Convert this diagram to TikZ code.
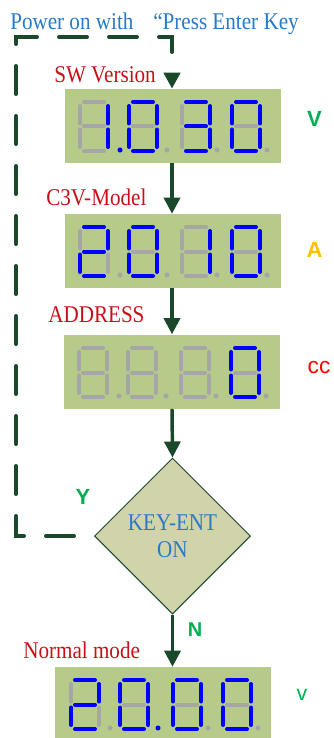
\documentclass[tikz,border=0pt]{standalone}
\usepackage{fontspec}
\setmainfont{Liberation Serif}
\newfontfamily\tfont[FakeStretch=0.88]{Liberation Serif}
\newfontfamily\lfont{Liberation Sans}
\usetikzlibrary{arrows.meta,shapes.geometric}
\definecolor{dkgreen}{RGB}{26,72,42}
\definecolor{dispbg}{RGB}{182,203,137}
\definecolor{segblue}{RGB}{0,0,255}
\definecolor{seggray}{RGB}{166,166,166}
\definecolor{diafill}{RGB}{209,211,171}
\definecolor{tblue}{RGB}{40,122,200}
\definecolor{tred}{RGB}{200,16,24}
\definecolor{lgreen}{RGB}{0,176,80}
\definecolor{lorange}{RGB}{255,192,0}
\definecolor{lred}{RGB}{255,0,0}
\tikzset{
  disp/.style={rectangle, fill=dispbg, draw=none, minimum width=162pt, minimum height=55.5pt, inner sep=0pt},
  sB/.style={draw=segblue},
  sG/.style={draw=seggray},
  seg/.style={line width=3pt, line cap=round},
  txt/.style={inner sep=0pt, anchor=base west, font=\tfont\fontsize{18}{20.25}\selectfont},
  lab/.style={inner sep=0pt, font=\lfont\bfseries\fontsize{16.5}{18}\selectfont, text=lgreen},
  arr/.style={draw=dkgreen, line width=2.6pt, -{Triangle[length=12pt,width=12pt]}},
  dashline/.style={draw=dkgreen, line width=3pt, line cap=round, dash pattern=on 21pt off 16.5pt, dash phase=22.5pt, -{Triangle[length=12pt,width=12pt]}},
}
\newcommand{\segdig}[9]{%
  \draw[seg,#3] (#1+4,#2) -- (#1+24,#2);
  \draw[seg,#4] (#1+28,#2+4) -- (#1+28,#2+21.5);
  \draw[seg,#5] (#1+28,#2+27.5) -- (#1+28,#2+45);
  \draw[seg,#6] (#1+4,#2+49) -- (#1+24,#2+49);
  \draw[seg,#7] (#1,#2+27.5) -- (#1,#2+45);
  \draw[seg,#8] (#1,#2+4) -- (#1,#2+21.5);
  \draw[seg,#9] (#1+4,#2+24.5) -- (#1+24,#2+24.5);
}
\newcommand{\dpt}[3]{\fill[#3] (#1,#2) circle[radius=1.9pt];}
\begin{document}
\begin{tikzpicture}[x=0.75pt,y=-0.75pt]
\useasboundingbox (0,0) rectangle (333,738);
% displays
\node[disp] (d1) at (173,126) {};
\node[disp] (d2) at (173,251) {};
\node[disp] (d3) at (172,371.5) {};
\node[disp, minimum height=53.25pt] (d4) at (163,702.5) {};
% display 1: 1.030
\segdig{80}{102}{sG}{sB}{sB}{sG}{sG}{sG}{sG}
\segdig{129}{102}{sB}{sB}{sB}{sB}{sB}{sB}{sG}
\segdig{182}{102}{sB}{sB}{sB}{sB}{sG}{sG}{sB}
\segdig{232}{102}{sB}{sB}{sB}{sB}{sB}{sB}{sG}
\dpt{120}{150}{segblue}\dpt{167}{150}{seggray}\dpt{217}{150}{seggray}\dpt{267}{150}{seggray}
% display 2: 2010
\segdig{80}{227}{sB}{sB}{sG}{sB}{sB}{sG}{sB}
\segdig{129}{227}{sB}{sB}{sB}{sB}{sB}{sB}{sG}
\segdig{182}{227}{sG}{sB}{sB}{sG}{sG}{sG}{sG}
\segdig{232}{227}{sB}{sB}{sB}{sB}{sB}{sB}{sG}
\dpt{120}{275}{seggray}\dpt{167}{275}{seggray}\dpt{217}{275}{seggray}\dpt{267}{275}{seggray}
% display 3: ---0
\segdig{79}{348}{sG}{sG}{sG}{sG}{sG}{sG}{sG}
\segdig{128}{348}{sG}{sG}{sG}{sG}{sG}{sG}{sG}
\segdig{181}{348}{sG}{sG}{sG}{sG}{sG}{sG}{sG}
\segdig{231}{348}{sB}{sB}{sB}{sB}{sB}{sB}{sG}
\dpt{119}{396}{seggray}\dpt{166}{396}{seggray}\dpt{216}{396}{seggray}\dpt{266}{396}{seggray}
% display 4: 20.00
\segdig{71}{680}{sB}{sB}{sG}{sB}{sB}{sG}{sB}
\segdig{120}{680}{sB}{sB}{sB}{sB}{sB}{sB}{sG}
\segdig{173}{680}{sB}{sB}{sB}{sB}{sB}{sB}{sG}
\segdig{223}{680}{sB}{sB}{sB}{sB}{sB}{sB}{sG}
\dpt{110}{728}{seggray}\dpt{158}{728}{segblue}\dpt{208}{728}{seggray}\dpt{258}{728}{seggray}
% diamond
\node[diamond, draw=dkgreen, fill=diafill, line width=0.75pt, minimum width=117pt, minimum height=117pt, inner sep=0pt, align=center, text=tblue, font=\tfont\fontsize{18}{20.25}\selectfont] (dia) at (172.5,536) {KEY-ENT\\ON};
% arrows
\draw[arr] (d1.south -| 172,0) -- (d2.north -| 172,0);
\draw[arr] (d2.south -| 172,0) -- (d3.north -| 172,0);
\draw[arr] (d3.south -| 172,0) -- (dia.north);
\draw[arr] (dia.south) -- (dia.south |- d4.north);
% dashed loop
\coordinate (c1) at (16,536);
\coordinate (c2) at (16,37);
\coordinate (c3) at (172,37);
\draw[dashline] (dia.west) -- (c1) -- (c2) -- (c3) -- (c3 |- d1.north);
% texts
\node[txt, text=tblue] (t1) at (10,30) {Power on with};
\node[txt, text=tblue] (t2) at (153,30) {“Press Enter Key};
\node[txt, text=tred] (t3) at (54,83) {SW Version};
\node[txt, text=tred] (t4) at (46,205) {C3V-Model};
\node[txt, text=tred] (t5) at (48,322) {ADDRESS};
\node[txt, text=tred] (t6) at (23,658) {Normal mode};
% side labels
\node[lab] (lv) at (314.5,119) {V};
\node[lab, text=lorange] (la) at (314.5,249.5) {A};
\node[lab, text=lred, font=\lfont\fontsize{17}{18}\selectfont] (lc) at (319,368) {cc};
\node[lab] (ly) at (83,497) {Y};
\node[lab, font=\lfont\bfseries\fontsize{15}{18}\selectfont] (ln) at (195,630) {N};
\node[lab, font=\lfont\fontsize{16}{18}\selectfont] (lvv) at (302,695) {v};
\end{tikzpicture}
\end{document}
